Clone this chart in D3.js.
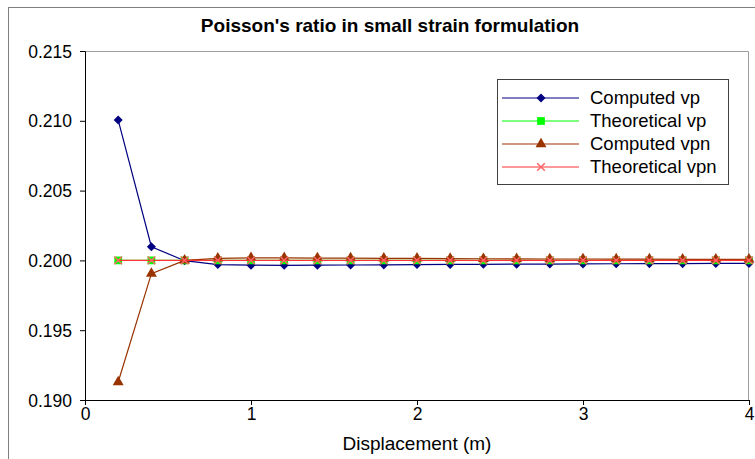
<!DOCTYPE html>
<html>
<head>
<meta charset="utf-8">
<script src="https://cdn.jsdelivr.net/npm/d3@7"></script>
<style>
  body { margin: 0; background: #fff; }
  svg { display: block; font-family: "Liberation Sans", Arial, sans-serif; }
</style>
</head>
<body>
<div id="chart"></div>
<script>
// Poisson's ratio chart.
const displacement = [0.2, 0.4, 0.6, 0.8, 1.0, 1.2, 1.4, 1.6, 1.8, 2.0,
                      2.2, 2.4, 2.6, 2.8, 3.0, 3.2, 3.4, 3.6, 3.8, 4.0];
const computedVp = [0.21005, 0.20098, 0.19998, 0.19970, 0.19966, 0.19965, 0.19966, 0.19967, 0.19968, 0.19970,
                    0.19971, 0.19972, 0.19973, 0.19974, 0.19975, 0.19976, 0.19977, 0.19977, 0.19978, 0.19978];
const theoreticalVp = displacement.map(() => 0.2);
const computedVpn = [0.19129, 0.19905, 0.20000, 0.20015, 0.20018, 0.20018, 0.20017, 0.20016, 0.20015, 0.20014,
                     0.20013, 0.20012, 0.20011, 0.20010, 0.20010, 0.20009, 0.20009, 0.20008, 0.20008, 0.20008];
const theoreticalVpn = displacement.map(() => 0.2);

const yTicks = [0.190, 0.195, 0.200, 0.205, 0.210, 0.215];
const xTicks = [0, 1, 2, 3, 4];

const series = [
  { name: 'Computed vp', values: computedVp, line: '#000080', fill: '#000080', marker: 'diamond' },
  { name: 'Theoretical vp', values: theoreticalVp, line: '#00ff00', fill: '#00ff00', marker: 'square' },
  { name: 'Computed vpn', values: computedVpn, line: '#993300', fill: '#993300', marker: 'triangle' },
  { name: 'Theoretical vpn', values: theoreticalVpn, line: '#ff3333', fill: '#ff6666', marker: 'cross' },
];

const W = 755, H = 459;
const margin = { top: 51, right: 6, bottom: 59, left: 85 };
const w = W - margin.left - margin.right;
const h = H - margin.top - margin.bottom;

const svg = d3.select('#chart').append('svg').attr('width', W).attr('height', H);

// chart area frame (runs past the window on right/bottom)
svg.append('rect')
  .attr('x', 8.5).attr('y', 7.5).attr('width', 760).attr('height', 470)
  .attr('fill', '#fff').attr('stroke', '#7f7f7f').attr('stroke-width', 1);

svg.append('text')
  .attr('x', 390).attr('y', 32).attr('text-anchor', 'middle')
  .attr('font-size', 19).attr('font-weight', 'bold')
  .text("Poisson's ratio in small strain formulation");

const g = svg.append('g').attr('transform', `translate(${margin.left},${margin.top})`);

const x = d3.scaleLinear().domain([0, 4]).range([0, w]);
const y = d3.scaleLinear().domain([0.190, 0.215]).range([h, 0]);

// plot area border (grey top/right)
g.append('path')
  .attr('d', `M0,0.5H${w - 0.5}V${h}`)
  .attr('fill', 'none').attr('stroke', '#a0a0a0');

const yAxis = g.append('g')
  .call(d3.axisLeft(y).tickValues(yTicks).tickFormat(d3.format('.3f')).tickSize(5).tickPadding(8));
const xAxis = g.append('g').attr('transform', `translate(0,${h})`)
  .call(d3.axisBottom(x).tickValues(xTicks).tickFormat(d3.format('d')).tickSize(5).tickPadding(3));
[yAxis, xAxis].forEach(a => {
  a.selectAll('path,line').attr('stroke', '#000');
  a.selectAll('text').attr('font-size', 17.5).attr('fill', '#000')
    .attr('font-family', '"Liberation Sans", Arial, sans-serif');
});
yAxis.selectAll('text').attr('dy', '0.35em');

g.append('text')
  .attr('x', w / 2 - 0).attr('y', h + 50).attr('text-anchor', 'middle')
  .attr('font-size', 19).text('Displacement (m)');

const symbols = {
  diamond: d3.symbol().type(d3.symbolDiamond2).size(52),
  square: d3.symbol().type(d3.symbolSquare).size(60),
  triangle: d3.symbol().type(d3.symbolTriangle).size(52),
  cross: d3.symbol().type(d3.symbolTimes).size(40),
};

function drawMarker(sel, s) {
  const p = sel.append('path').attr('d', symbols[s.marker]());
  if (s.marker === 'cross') p.attr('fill', 'none').attr('stroke', s.fill).attr('stroke-width', 1.5);
  else p.attr('fill', s.fill).attr('stroke', 'none');
  return p;
}

const line = d3.line().x((d, i) => x(displacement[i])).y(d => y(d));

series.forEach(s => {
  const sg = g.append('g');
  sg.append('path').attr('d', line(s.values))
    .attr('fill', 'none').attr('stroke', s.line).attr('stroke-width', 1.2);
  s.values.forEach((v, i) => {
    const mg = sg.append('g').attr('transform', `translate(${x(displacement[i])},${y(v)})`);
    drawMarker(mg, s);
  });
});

// legend
const lg = svg.append('g').attr('transform', 'translate(497,79)');
lg.append('rect').attr('x', 0.5).attr('y', 0.5).attr('width', 231).attr('height', 105)
  .attr('fill', '#fff').attr('stroke', '#404040');
series.forEach((s, i) => {
  const row = lg.append('g').attr('transform', `translate(0,${19 + i * 23})`);
  row.append('line').attr('x1', 5).attr('x2', 82).attr('stroke', s.line).attr('stroke-width', 1.2);
  drawMarker(row.append('g').attr('transform', 'translate(44,0)'), s);
  row.append('text').attr('x', 93).attr('dy', '0.35em').attr('font-size', 18.5).text(s.name);
});
</script>
</body>
</html>
